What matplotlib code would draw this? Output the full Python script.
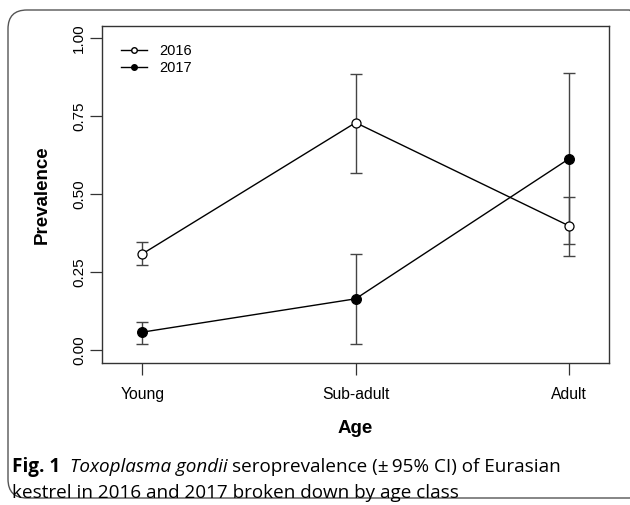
import matplotlib
matplotlib.use("Agg")
import matplotlib.pyplot as plt
from matplotlib.patches import FancyBboxPatch
from matplotlib.lines import Line2D

categories = ["Young", "Sub-adult", "Adult"]
prev_2016 = [0.309, 0.730, 0.399]
low_2016 = [0.273, 0.569, 0.341]
high_2016 = [0.348, 0.887, 0.493]
prev_2017 = [0.058, 0.165, 0.614]
low_2017 = [0.020, 0.021, 0.303]
high_2017 = [0.091, 0.309, 0.889]
y_ticks = [0.0, 0.25, 0.5, 0.75, 1.0]
y_ticklabels = ["0.00", "0.25", "0.50", "0.75", "1.00"]

plt.rcParams['font.family'] = ['Liberation Sans', 'DejaVu Sans']

fig = plt.figure(figsize=(6.3, 5.05), dpi=100)
ax = fig.add_axes([102/630, 1-362.7/505, (609.3-102)/630, (362.7-26)/505])

x = [1, 2, 3]
for prev, lo, hi, face in [(prev_2016, low_2016, high_2016, 'white'),
                           (prev_2017, low_2017, high_2017, 'black')]:
    yerr = [[p - l for p, l in zip(prev, lo)], [h - p for p, h in zip(prev, hi)]]
    ax.errorbar(x, prev, yerr=yerr, fmt='none', ecolor='#444444', elinewidth=1.0,
                capsize=4.3, capthick=1.0, zorder=2)
    ax.plot(x, prev, color='black', lw=1.0, zorder=3)
    ax.plot(x, prev, 'o', ms=7 if face == 'black' else 6.5, mfc=face, mec='black', mew=0.9, zorder=4)

ax.set_xlim(1 - 0.189, 3 + 0.189)
ax.set_ylim(-0.04, 1.04)
ax.set_xticks(x)
ax.set_xticklabels(categories, fontsize=11.3)
ax.set_yticks(y_ticks)
ax.set_yticklabels(y_ticklabels, fontsize=11, rotation=90, va='center')
ax.tick_params(axis='both', direction='out', length=8.5, width=0.9, color='#333333')
ax.tick_params(axis='x', pad=9)
ax.tick_params(axis='y', pad=3)
for s in ax.spines.values():
    s.set_linewidth(1.0)
    s.set_color('#333333')

ax.set_xlabel("Age", fontsize=13.5, fontweight='bold', labelpad=13)
ax.set_ylabel("Prevalence", fontsize=13.5, fontweight='bold', labelpad=15)

handles = [Line2D([0], [0], color='black', lw=1.0, marker='o', ms=4, mfc='white', mec='black'),
           Line2D([0], [0], color='black', lw=1.0, marker='o', ms=4, mfc='black', mec='black')]
ax.legend(handles, ["2016", "2017"], loc='upper left', frameon=False, fontsize=10.5,
          handlelength=1.8, handletextpad=0.8, labelspacing=0.22,
          bbox_to_anchor=(0.012, 0.985))

# Outer rounded frame
frame = FancyBboxPatch((8/630, 1-498/505), 640/630, (498-10)/505,
                       boxstyle="round,pad=0,rounding_size=0.03",
                       transform=fig.transFigure, fill=False, ec='#555555', lw=1.0,
                       mutation_aspect=630/505)
fig.patches.append(frame)

# Caption
cap_font = ['Open Sans', 'DejaVu Sans']
fs = 13.6
y1 = 1 - 467/505
t = fig.text(12/630, y1, "Fig. 1", fontsize=fs, fontweight='bold', family=cap_font, va='center')
fig.canvas.draw()
r = fig.canvas.get_renderer()
bb = t.get_window_extent(r)
t2 = fig.text(bb.x1/630 + 10/630, y1, "Toxoplasma gondii", fontsize=fs, style='italic',
              family=cap_font, va='center')
bb2 = t2.get_window_extent(r)
fig.text(bb2.x1/630 + 4/630, y1, "seroprevalence (\u00b1\u200995% CI) of Eurasian", fontsize=fs,
         family=cap_font, va='center')
fig.text(12/630, 1 - 493/505, "kestrel in 2016 and 2017 broken down by age class", fontsize=fs,
         family=cap_font, va='center')

fig.savefig("out.png", dpi=100)
